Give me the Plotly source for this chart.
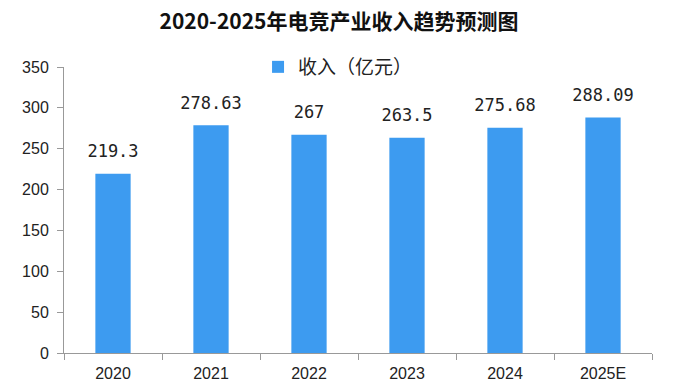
import plotly.graph_objects as go

categories = ["2020", "2021", "2022", "2023", "2024", "2025E"]
revenue = [219.3, 278.63, 267, 263.5, 275.68, 288.09]
labels = ["219.3", "278.63", "267", "263.5", "275.68", "288.09"]
y_ticks = [0, 50, 100, 150, 200, 250, 300, 350]

fig = go.Figure()
fig.add_trace(go.Bar(
    x=categories, y=revenue, name="收入（亿元）",
    marker=dict(color="#3D9BF0", line=dict(width=0)),
    width=0.36, hoverinfo="skip",
))
fig.add_trace(go.Scatter(
    x=categories, y=revenue, mode="markers+text", text=labels,
    textposition="top center", showlegend=False, hoverinfo="skip",
    marker=dict(size=18, opacity=0),
    textfont=dict(family="DejaVu Sans Mono, monospace", size=17, color="#222"),
    cliponaxis=False,
))

fig.update_layout(
    width=678, height=389,
    margin=dict(l=64, r=26, t=67, b=36, autoexpand=False),
    paper_bgcolor="white", plot_bgcolor="white",
    title=dict(text="<b>2020-2025年电竞产业收入趋势预测图</b>", x=0.5, xanchor="center",
               y=1 - 22 / 389, yref="container", yanchor="middle",
               font=dict(family="Noto Sans CJK SC", size=21, color="#111")),
    showlegend=True,
    legend=dict(x=0.33, y=1.0, xanchor="left", yanchor="middle", orientation="h",
                font=dict(family="Noto Sans CJK SC", size=19, color="#222"),
                bgcolor="rgba(0,0,0,0)", itemwidth=30),
    xaxis=dict(type="category", showline=True, linecolor="#999", linewidth=1, ticks="outside",
               tickson="boundaries", ticklen=6, tickcolor="#999",
               ticklabelstandoff=6, automargin=False,
               tickfont=dict(family="Liberation Sans, Arial", size=16, color="#222"),
               showgrid=False),
    yaxis=dict(range=[0, 350], tickvals=y_ticks, showline=True, linecolor="#999",
               linewidth=1, ticks="outside", ticklen=6, tickcolor="#999",
               ticklabelstandoff=5, automargin=False,
               tickfont=dict(family="Liberation Sans, Arial", size=16, color="#222"),
               showgrid=False, zeroline=False),
    bargap=0.64,
)

fig.write_html("out.html", config={"displayModeBar": False},
               post_script="document.body.style.margin='0';")
